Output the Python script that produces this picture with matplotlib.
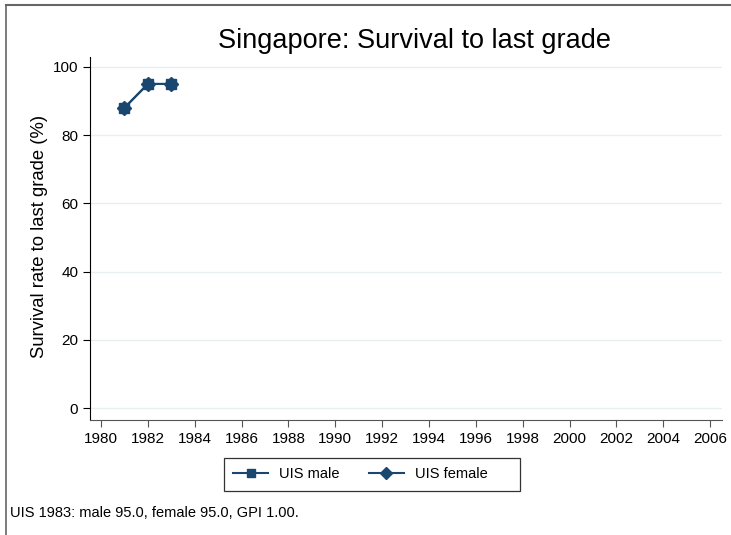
import matplotlib
matplotlib.use("Agg")
import matplotlib.pyplot as plt
from matplotlib.lines import Line2D
from matplotlib.patches import Rectangle

# data
years = [1981, 1982, 1983]
male = [88.0, 95.0, 95.0]
female = [88.0, 95.0, 95.0]
xticks = list(range(1980, 2007, 2))
yticks = [0, 20, 40, 60, 80, 100]
title = "Singapore: Survival to last grade"
ylabel = "Survival rate to last grade (%)"
note = "UIS 1983: male 95.0, female 95.0, GPI 1.00."

navy = "#1a476f"
plt.rcParams["font.family"] = ["Liberation Sans", "DejaVu Sans"]

fig = plt.figure(figsize=(7.31, 5.35), dpi=100)
W, H = 731, 535
ax = fig.add_axes([90 / W, 1 - 420 / H, (722 - 90) / W, (420 - 57) / H])

ax.plot(years, male, color=navy, lw=1.5, marker="s", ms=7, label="UIS male")
ax.plot(years, female, color=navy, lw=1.5, marker="D", ms=7, label="UIS female")

ax.set_xlim(1979.53, 2006.51)
ax.set_ylim(-3.5, 102.9)
ax.set_xticks(xticks)
ax.set_yticks(yticks)
ax.tick_params(labelsize=11, length=5, color="#555555")
ax.tick_params(axis="y", color="black")
for y in yticks:
    ax.axhline(y, color="#e8eff1", lw=1, zorder=0)
for s in ("top", "right"):
    ax.spines[s].set_visible(False)
ax.spines["left"].set_color("black")
ax.spines["bottom"].set_color("#555555")
ax.set_ylabel(ylabel, fontsize=13.3)
ax.yaxis.set_label_coords(-0.067, 0.505)

fig.text(415 / W, 1 - 41 / H, title, ha="center", va="center", fontsize=19.5)

# legend box (Stata draws it wider than its contents)
fig.add_artist(Rectangle((224 / W, 1 - 491 / H), (520 - 224) / W, (491 - 458) / H,
                         transform=fig.transFigure, fill=False,
                         edgecolor="#333333", lw=0.9))
handles = [Line2D([], [], color=navy, lw=1.5, marker="s", ms=6),
           Line2D([], [], color=navy, lw=1.5, marker="D", ms=6)]
fig.legend(handles, ["UIS male", "UIS female"], loc="center left",
           bbox_to_anchor=(233 / W, 1 - 474.5 / H), ncol=2, fontsize=10.5,
           frameon=False, handlelength=2.4, handletextpad=0.75,
           columnspacing=2.0, borderpad=0, borderaxespad=0)

fig.text(10 / W, 1 - 513 / H, note, ha="left", va="center", fontsize=10.5)

# outer frame (left and top edges visible)
fig.add_artist(Line2D([6 / W, 6 / W], [0, 1 - 5 / H], transform=fig.transFigure,
                      color="#666666", lw=1.2))
fig.add_artist(Line2D([6 / W, 1], [1 - 5 / H, 1 - 5 / H], transform=fig.transFigure,
                      color="#666666", lw=1.5))

fig.savefig("out.png", dpi=100)
